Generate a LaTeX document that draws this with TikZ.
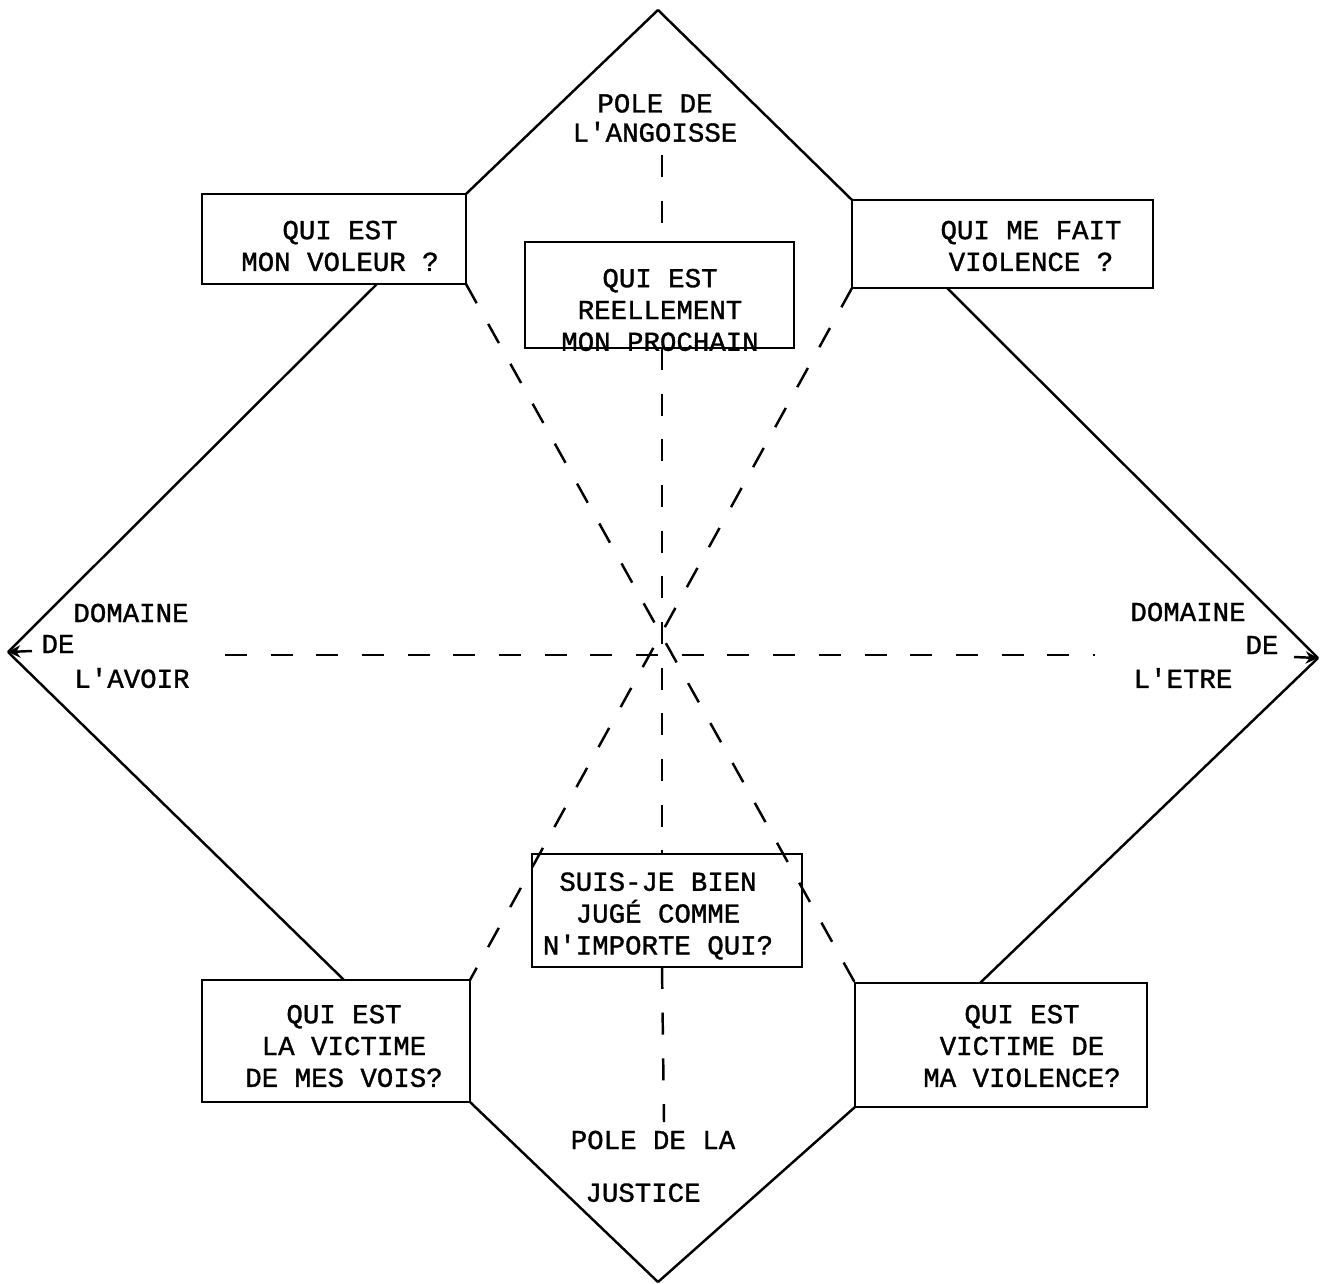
\documentclass[tikz,border=0pt]{standalone}
\usepackage{fontspec}
\newfontfamily\typefont[FakeBold=1.2]{Liberation Mono}
\usetikzlibrary{arrows.meta,positioning}

\tikzset{
  qbox/.style={draw, line width=1.4pt, inner sep=0pt, outer sep=0pt},
  qtext/.style={font=\typefont\fontsize{15.6}{18.1}\selectfont, align=center, inner sep=0pt},
  rim/.style={line width=1.4pt, line join=round},
  axis/.style={line width=1.4pt, dash pattern=on 12.5pt off 13.5pt}
}

\begin{document}
\begin{tikzpicture}[x=0.02cm, y=-0.02cm]
\useasboundingbox (0,0) rectangle (1322,1284);
% the four poles
\coordinate (top) at (658,10);
\coordinate (bot) at (658,1282);
\coordinate (left) at (8,652);
\coordinate (right) at (1318,658);
% question boxes
\node[qbox, minimum width=5.28cm, minimum height=1.8cm] (tl) at (334,239) {};
\node[qbox, minimum width=6.02cm, minimum height=1.76cm] (tr) at (1002.5,244) {};
\node[qbox, minimum width=5.38cm, minimum height=2.12cm] (ctop) at (659.5,295) {};
\node[qbox, minimum width=5.4cm, minimum height=2.26cm] (cbot) at (667,910.5) {};
\node[qbox, minimum width=5.36cm, minimum height=2.44cm] (bl) at (336,1041) {};
\node[qbox, minimum width=5.84cm, minimum height=2.48cm] (br) at (1001,1045) {};
\node[qtext] (tltxt) at (340,246) {QUI EST\\MON VOLEUR ?};
\node[qtext] (trtxt) at (1031,246) {QUI ME FAIT\\VIOLENCE ?};
\node[qtext] (ctoptxt) at (660,310) {QUI EST\\REELLEMENT\\MON PROCHAIN};
\node[qtext] (cbottxt) at (658,916) {SUIS-JE BIEN\\JUGÉ COMME\\N'IMPORTE QUI?};
\node[qtext] (bltxt) at (344,1046) {QUI EST\\LA VICTIME\\DE MES VOIS?};
\node[qtext] (brtxt) at (1022,1046) {QUI EST\\VICTIME DE\\MA VIOLENCE?};
% pole and domain labels
\node[qtext] (angoisse) at (655,118) {POLE DE\\[-1.5pt]L'ANGOISSE};
\node[qtext] (pole) at (653,1140) {POLE DE LA};
\node[qtext, below=30pt of pole.base, anchor=base, xshift=-0.2cm] (justice) {JUSTICE};
\node[qtext] (domav) at (131,613) {DOMAINE};
\node[qtext] (deav) at (58,644) {DE};
\node[qtext] (avoir) at (132,678) {L'AVOIR};
\node[qtext] (domet) at (1188,612) {DOMAINE};
\node[qtext] (deet) at (1262,645) {DE};
\node[qtext] (etre) at (1183,678) {L'ETRE};
% outline
\coordinate (tlfoot) at (377,284);
\coordinate (trfoot) at (947,288);
\coordinate (blhead) at (344,980);
\coordinate (brhead) at (980,983);
\foreach \a/\b in {top/tl.north east, tlfoot/left, left/blhead, bl.south east/bot,
                   bot/br.south west, brhead/right, right/trfoot, tr.north west/top}
  \draw[rim] (\a) -- (\b);
\coordinate (lstem) at (32,651);
\coordinate (rstem) at (1294,657);
\draw[line width=1.4pt, -{Stealth[length=7pt,width=7pt]}] (lstem) -- (left);
\draw[line width=1.4pt, -{Stealth[length=7pt,width=7pt]}] (rstem) -- (right);
% dashed axes
\coordinate (vtop) at (662,155);
\coordinate (vbot) at (664,1122);
\coordinate (hleft) at (225,655);
\coordinate (hright) at (1095,655);
\draw[axis] (vtop) -- (vtop |- ctop.north);
\draw[axis] (ctop.south -| vtop) -- (cbot.north -| vtop);
\draw[axis] (cbot.south -| vtop) -- (vbot);
\draw[axis] (hleft) -- (hright);
\draw[axis] (tl.south east) -- (br.north west);
\draw[axis] (tr.south west) -- (bl.north east);
\end{tikzpicture}
\end{document}
